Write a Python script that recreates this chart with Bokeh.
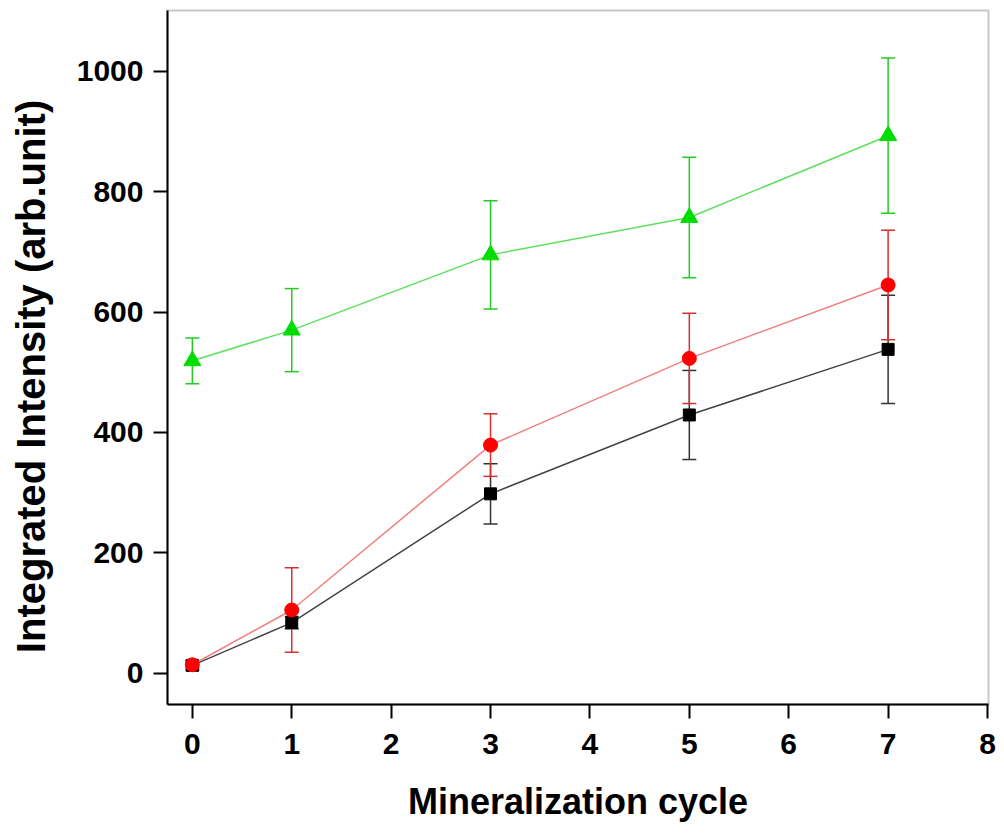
import math
from bokeh.plotting import figure
from bokeh.layouts import row
from bokeh.models import ColumnDataSource, Whisker, TeeHead, Range1d, FixedTicker
from bokeh.core.properties import value
from bokeh.embed import file_html
from bokeh.resources import INLINE

cycles = [0, 1, 3, 5, 7]
black_vals = [13, 84, 298, 429, 538]
black_err = [8, 10, 50, 74, 90]
red_vals = [14, 105, 379, 523, 645]
red_err = [6, 70, 52, 75, 91]
green_vals = [519, 570, 695, 757, 893]
green_err = [38, 69, 90, 100, 129]
x_ticks = [0, 1, 2, 3, 4, 5, 6, 7, 8]
y_ticks = [0, 200, 400, 600, 800, 1000]
x_label = "Mineralization cycle"
y_label = "Integrated Intensity (arb.unit)"

FONT = "Liberation Sans"
H = 825
LW = 60
Y_RANGE = (-52, 1101)

# narrow figure carrying the y-axis title
pl = figure(width=LW, height=H, output_backend="svg", toolbar_location=None,
            x_range=Range1d(0, LW), y_range=Range1d(*Y_RANGE),
            x_axis_type=None, y_axis_type=None,
            min_border_left=0, min_border_right=0, min_border_top=10, min_border_bottom=121)
pl.grid.visible = False
pl.outline_line_color = None
pl.border_fill_color = "white"
pl.background_fill_color = "white"
pl.text(x=[30], y=[493], text=[y_label], angle=math.pi / 2,
        text_align="center", text_baseline="middle",
        text_font=value(FONT), text_font_style="bold", text_font_size="40px",
        text_color="black")

p = figure(width=996 - LW, height=H, output_backend="svg", toolbar_location=None,
           x_range=Range1d(-0.25, 8.01), y_range=Range1d(*Y_RANGE),
           min_border_left=167 - LW, min_border_right=8, min_border_top=10, min_border_bottom=121)
p.grid.visible = False
p.background_fill_color = "white"
p.border_fill_color = "white"
p.outline_line_color = "#c8c8c8"
p.outline_line_width = 2

for ax in (p.xaxis[0], p.yaxis[0]):
    ax.axis_line_color = "black"
    ax.axis_line_width = 2
    ax.major_tick_line_color = "black"
    ax.major_tick_line_width = 2
    ax.major_tick_out = 14
    ax.major_tick_in = 0
    ax.minor_tick_line_color = None
    ax.major_label_text_font = FONT
    ax.major_label_text_font_style = "bold"
    ax.major_label_text_font_size = "30px"
    ax.major_label_text_color = "black"

p.xaxis.major_label_standoff = 15
p.yaxis.major_label_standoff = 10
p.xaxis.ticker = FixedTicker(ticks=x_ticks)
p.yaxis.ticker = FixedTicker(ticks=y_ticks)
p.xaxis.axis_label = x_label
p.xaxis.axis_label_text_font = FONT
p.xaxis.axis_label_text_font_style = "bold"
p.xaxis.axis_label_text_font_size = "36px"
p.xaxis.axis_label_text_color = "black"
p.xaxis.axis_label_standoff = 24

series = [
    (green_vals, green_err, "#5ee05e", "#22cc22", "#00dd00", "triangle", 17),
    (black_vals, black_err, "#444444", "#333333", "black", "square", 12),
    (red_vals, red_err, "#f08080", "#d83030", "#ff0000", "circle", 14),
]

for vals, errs, line_c, err_c, mark_c, marker, size in series:
    src = ColumnDataSource(dict(
        x=cycles, y=vals,
        upper=[v + e for v, e in zip(vals, errs)],
        lower=[v - e for v, e in zip(vals, errs)],
    ))
    w = Whisker(source=src, base="x", upper="upper", lower="lower",
                line_color=err_c, line_width=1.5,
                upper_head=TeeHead(size=14, line_color=err_c, line_width=1.5),
                lower_head=TeeHead(size=14, line_color=err_c, line_width=1.5))
    p.add_layout(w)
    p.line("x", "y", source=src, line_color=line_c, line_width=1.5)
    p.scatter("x", "y", source=src, marker=marker, size=size,
              fill_color=mark_c, line_color=mark_c)

layout = row(pl, p, spacing=0)
open("out.html", "w").write(file_html(layout, INLINE))
